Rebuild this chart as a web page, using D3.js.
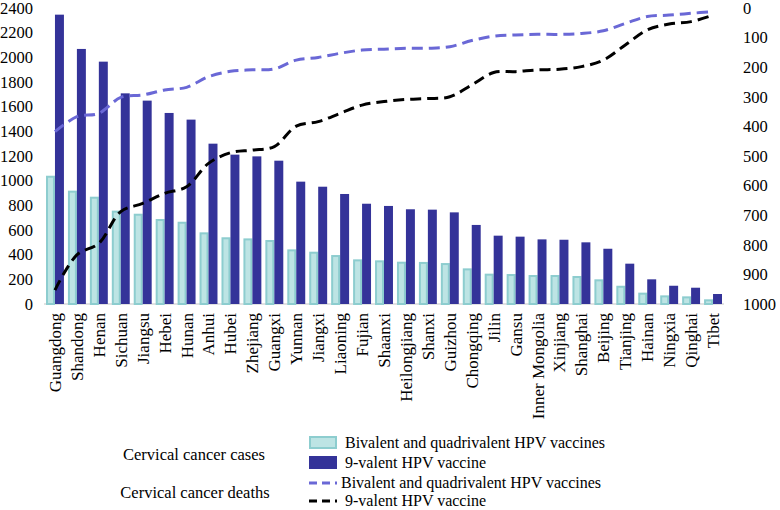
<!DOCTYPE html>
<html>
<head>
<meta charset="utf-8">
<script src="https://d3js.org/d3.v7.min.js"></script>
<style>
  body { margin: 0; background: #fff; }
  text { font-family: "Liberation Serif", "Times New Roman", serif; fill: #000; }
</style>
</head>
<body>
<svg id="svg"></svg>
<script>
var larghezza = 780;
var altezza = 510;

var provinces = ["Guangdong","Shandong","Henan","Sichuan","Jiangsu","Hebei","Hunan","Anhui","Hubei","Zhejiang",
  "Guangxi","Yunnan","Jiangxi","Liaoning","Fujian","Shaanxi","Heilongjiang","Shanxi","Guizhou","Chongqing",
  "Jilin","Gansu","Inner Mongolia","Xinjiang","Shanghai","Beijing","Tianjing","Hainan","Ningxia","Qinghai","Tibet"];

// cervical cancer cases (left axis)
var casesBiQuad = [1040,919,870,757,732,689,667,581,541,532,519,443,424,397,362,354,343,341,332,289,246,243,235,235,227,200,148,92,70,62,38];
var cases9 = [2346,2068,1965,1708,1649,1549,1495,1300,1211,1197,1162,992,951,892,813,795,768,765,743,641,554,546,524,521,500,448,327,200,148,132,81];

// cervical cancer deaths (right axis, reversed)
var deathsBiQuad = [418,367,356,302,294,277,268,232,214,209,206,176,167,153,142,139,136,136,131,110,95,91,89,89,86,77,52,29,24,18,12];
var deaths9 = [953,834,795,688,660,626,604,525,489,480,468,399,384,356,328,316,309,306,300,260,218,215,209,207,198,176,125,74,54,46,24];

var leftTicks = [0,200,400,600,800,1000,1200,1400,1600,1800,2000,2200,2400];
var rightTicks = [0,100,200,300,400,500,600,700,800,900,1000];

var lightFill = "#bde4e4";
var lightStroke = "#8dcdcf";
var darkFill = "#343399";
var purple = "#6a68d6";

var svg = d3.select("#svg");
svg.attr("width", larghezza).attr("height", altezza);

var x = d3.scaleBand().domain(provinces).range([44, 724]).padding(0);
var xSub = d3.scaleBand().domain(["bq","nine"]).range([2, x.bandwidth() - 2]);
var yLeft = d3.scaleLinear().domain([0, 2400]).range([304, 8]);
var yRight = d3.scaleLinear().domain([0, 1000]).range([8, 304]);

drawAxes();
drawBars();
drawLines();
drawLegend();

function drawAxes() {
    svg.append("line")
        .attr("x1", 44).attr("x2", 724)
        .attr("y1", yLeft(0)).attr("y2", yLeft(0))
        .style("stroke", "#d9d9d9").style("stroke-width", "1.5px");

    svg.selectAll(".lt").data(leftTicks).enter().append("text")
        .attr("x", 33).attr("y", function (d) { return yLeft(d); })
        .attr("dy", "0.35em").attr("text-anchor", "end")
        .style("font-size", "16.5px")
        .text(function (d) { return d; });

    svg.selectAll(".rt").data(rightTicks).enter().append("text")
        .attr("x", 743).attr("y", function (d) { return yRight(d); })
        .attr("dy", "0.35em").attr("text-anchor", "start")
        .style("font-size", "16.5px")
        .text(function (d) { return d; });

    svg.selectAll(".xl").data(provinces).enter().append("text")
        .attr("transform", function (d) {
            return "translate(" + (x(d) + x.bandwidth() / 2) + ",313) rotate(-90)";
        })
        .attr("dy", "0.35em").attr("text-anchor", "end")
        .style("font-size", "17px")
        .text(function (d) { return d; });
}

function drawBars() {
    provinces.forEach(function (p, i) {
        var bx = x(p);
        svg.append("rect")
            .attr("x", bx + xSub("bq") + 1)
            .attr("y", yLeft(casesBiQuad[i]) + 1)
            .attr("width", xSub.bandwidth() - 2)
            .attr("height", yLeft(0) - yLeft(casesBiQuad[i]) - 1)
            .style("fill", lightFill)
            .style("stroke", lightStroke)
            .style("stroke-width", "2px");

        svg.append("rect")
            .attr("x", bx + xSub("nine"))
            .attr("y", yLeft(cases9[i]))
            .attr("width", xSub.bandwidth())
            .attr("height", yLeft(0) - yLeft(cases9[i]))
            .style("fill", darkFill);
    });
}

function drawLines() {
    var line = d3.line()
        .x(function (d, i) { return x(provinces[i]) + x.bandwidth() / 2; })
        .y(function (d) { return yRight(d); })
        .curve(d3.curveCatmullRom);

    svg.append("path")
        .attr("d", line(deathsBiQuad))
        .style("fill", "none")
        .style("stroke", purple)
        .style("stroke-width", "3px")
        .style("stroke-dasharray", "11,6");

    svg.append("path")
        .attr("d", line(deaths9))
        .style("fill", "none")
        .style("stroke", "#000")
        .style("stroke-width", "3px")
        .style("stroke-dasharray", "11,6");
}

function drawLegend() {
    svg.append("text").attr("x", 194).attr("y", 454).attr("dy", "0.35em")
        .attr("text-anchor", "middle").style("font-size", "16.5px")
        .text("Cervical cancer cases");
    svg.append("text").attr("x", 195).attr("y", 492).attr("dy", "0.35em")
        .attr("text-anchor", "middle").style("font-size", "16.5px")
        .text("Cervical cancer deaths");

    svg.append("rect").attr("x", 310).attr("y", 437).attr("width", 26).attr("height", 11)
        .style("fill", lightFill).style("stroke", lightStroke).style("stroke-width", "2px");
    svg.append("text").attr("x", 345).attr("y", 442).attr("dy", "0.35em")
        .style("font-size", "16px").text("Bivalent and quadrivalent HPV vaccines");

    svg.append("rect").attr("x", 309).attr("y", 456).attr("width", 28).attr("height", 13)
        .style("fill", darkFill);
    svg.append("text").attr("x", 345).attr("y", 462).attr("dy", "0.35em")
        .style("font-size", "16px").text("9-valent HPV vaccine");

    svg.append("path").attr("d", "M309 483 L337 483")
        .style("stroke", purple).style("stroke-width", "3px").style("stroke-dasharray", "8,5");
    svg.append("text").attr("x", 341).attr("y", 482).attr("dy", "0.35em")
        .style("font-size", "16px").text("Bivalent and quadrivalent HPV vaccines");

    svg.append("path").attr("d", "M309 501 L337 501")
        .style("stroke", "#000").style("stroke-width", "3px").style("stroke-dasharray", "8,5");
    svg.append("text").attr("x", 345).attr("y", 500).attr("dy", "0.35em")
        .style("font-size", "16px").text("9-valent HPV vaccine");
}
</script>
</body>
</html>
